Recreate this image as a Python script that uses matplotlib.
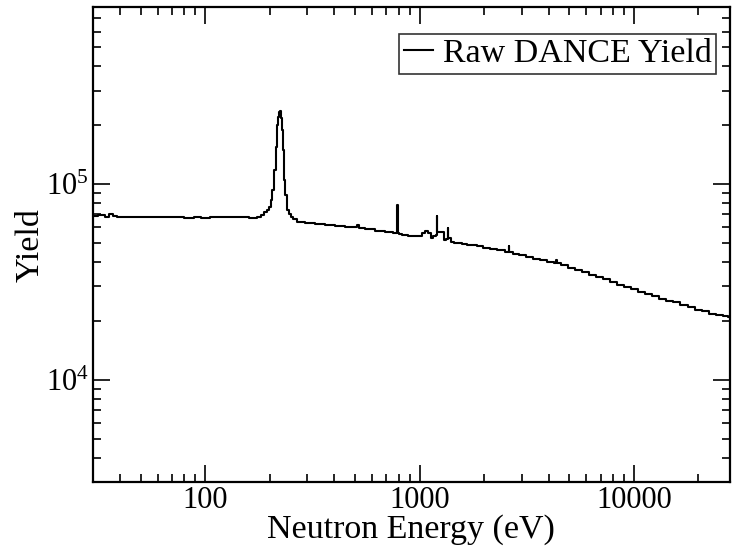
import matplotlib
matplotlib.use("Agg")
import matplotlib.pyplot as plt
from matplotlib.ticker import LogLocator, NullFormatter, FixedLocator, FixedFormatter

# raw DANCE yield (eV, counts)
energy = [30, 33, 35, 36.5, 38, 40, 50, 60, 75, 85, 92, 100, 110, 130, 150,
          171, 180, 186, 192, 196, 200, 205, 207, 212, 216, 218.5, 221, 223,
          226, 228, 231, 233, 235, 238, 243, 248.5, 254, 262, 276, 308, 343,
          382, 425, 473, 508, 512, 527, 587, 653, 727, 776, 787, 792, 797, 809,
          854, 920, 1003, 1047, 1082, 1117, 1141, 1179, 1198, 1204, 1210, 1243,
          1284, 1312, 1350, 1355, 1360, 1385, 1415, 1476, 1541, 1626, 1716,
          1810, 1911, 2060, 2221, 2393, 2595, 2609, 2623, 2812, 3031, 3268,
          3523, 3797, 4094, 4340, 4367, 4395, 4758, 5129, 5530, 5961, 6426,
          6928, 7468, 8050, 8680, 9357, 10090, 10870, 11720, 12640, 13620,
          14690, 15830, 17070, 18600, 20050, 21620, 23300, 25120, 26790, 28000]
yield_raw = [6.85e4, 6.9e4, 6.8e4, 7.05e4, 6.85e4, 6.8e4, 6.8e4, 6.8e4,
             6.78e4, 6.72e4, 6.76e4, 6.72e4, 6.78e4, 6.76e4, 6.78e4,
             6.72e4, 6.8e4, 6.95e4, 7.2e4, 7.36e4, 7.64e4, 8.3e4, 9.3e4,
             1.18e5, 1.55e5, 2.0e5, 2.2e5, 2.33e5,
             2.36e5, 2.17e5, 1.89e5, 1.49e5, 1.05e5, 8.8e4, 7.36e4, 7.0e4,
             6.78e4, 6.63e4, 6.4e4, 6.32e4, 6.25e4,
             6.14e4, 6.06e4, 6.03e4, 6.0e4, 6.18e4, 5.96e4, 5.86e4, 5.75e4,
             5.69e4, 5.62e4, 5.62e4, 7.8e4, 5.6e4, 5.56e4,
             5.46e4, 5.4e4, 5.4e4, 5.62e4, 5.77e4, 5.62e4, 5.3e4, 5.42e4, 5.5e4,
             6.87e4, 5.69e4, 5.69e4,
             5.69e4, 5.18e4, 5.22e4, 5.96e4, 5.3e4, 5.3e4, 5.06e4, 5.0e4, 5.0e4,
             4.94e4, 4.9e4,
             4.86e4, 4.82e4, 4.71e4, 4.66e4, 4.57e4, 4.5e4, 4.82e4, 4.48e4,
             4.39e4, 4.34e4, 4.24e4,
             4.14e4, 4.1e4, 3.99e4, 3.96e4, 4.09e4, 3.93e4, 3.86e4, 3.73e4,
             3.63e4, 3.56e4, 3.43e4,
             3.35e4, 3.28e4, 3.16e4, 3.06e4, 2.98e4, 2.91e4, 2.82e4, 2.74e4,
             2.66e4, 2.59e4,
             2.53e4, 2.48e4, 2.41e4, 2.35e4, 2.27e4, 2.23e4, 2.17e4, 2.15e4,
             2.11e4, 2.09e4]

plt.rcParams["font.family"] = ["Liberation Serif", "DejaVu Serif"]
plt.rcParams["mathtext.fontset"] = "custom"
plt.rcParams["mathtext.rm"] = "Liberation Serif"
plt.rcParams["mathtext.it"] = "Liberation Serif:italic"

fig = plt.figure(figsize=(7.32, 5.49), dpi=100)
ax = fig.add_axes([0.127, 0.122, 0.870, 0.865])

ax.plot(energy, yield_raw, color="black", lw=1.5, drawstyle="steps-mid",
        label="Raw DANCE Yield")

ax.set_xscale("log")
ax.set_yscale("log")
ax.set_xlim(30, 28000)
ax.set_ylim(3000, 8e5)

ax.xaxis.set_major_locator(FixedLocator([100, 1000, 10000]))
ax.xaxis.set_major_formatter(FixedFormatter(["100", "1000", "10000"]))
ax.xaxis.set_minor_locator(LogLocator(base=10, subs=range(2, 10)))
ax.xaxis.set_minor_formatter(NullFormatter())
ax.yaxis.set_major_locator(FixedLocator([1e4, 1e5]))
ax.yaxis.set_major_formatter(FixedFormatter([r"$10^{4}$", r"$10^{5}$"]))
ax.yaxis.set_minor_locator(LogLocator(base=10, subs=range(2, 10)))
ax.yaxis.set_minor_formatter(NullFormatter())

ax.tick_params(which="both", direction="in", top=True, right=True, width=1.2)
ax.tick_params(which="major", length=12, labelsize=22, pad=3)
ax.tick_params(which="minor", length=6)
for s in ax.spines.values():
    s.set_linewidth(1.6)

ax.set_xlabel("Neutron Energy (eV)", fontsize=24.5)
ax.xaxis.set_label_coords(0.5, -0.068)
ax.set_ylabel("Yield", fontsize=24.5)
ax.yaxis.set_label_coords(-0.075, 0.5)

leg = ax.legend(loc="upper right", bbox_to_anchor=(0.979, 0.944), fontsize=24.5,
                frameon=True, fancybox=False, handlelength=0.85,
                handletextpad=0.3, borderpad=0.14, borderaxespad=0)
leg.get_frame().set_edgecolor("black")
leg.get_frame().set_linewidth(1.2)

fig.savefig("out.png", dpi=100)
